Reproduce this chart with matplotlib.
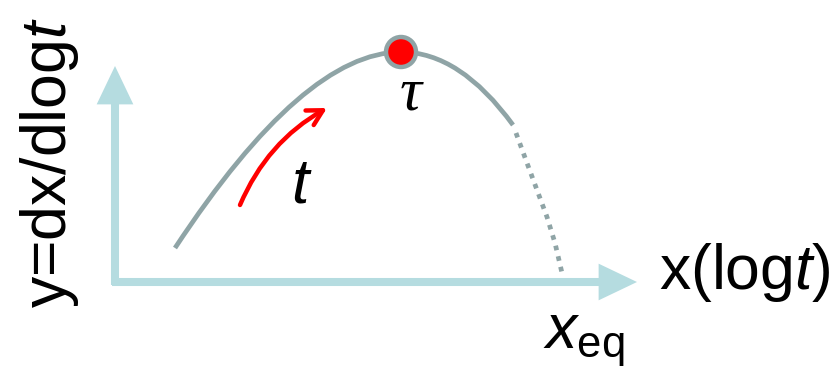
import matplotlib
matplotlib.use("Agg")
import matplotlib.pyplot as plt
from matplotlib.patches import FancyArrowPatch, Circle, PathPatch
from matplotlib.path import Path

plt.rcParams['font.family'] = ['Liberation Sans', 'DejaVu Sans']
plt.rcParams['mathtext.fontset'] = 'custom'
plt.rcParams['mathtext.rm'] = 'Liberation Sans'
plt.rcParams['mathtext.it'] = 'Liberation Sans:italic'

# curve y = dx/dlogt against log t, in drawing units (y grows downwards)
# nodes of two quadratic Bezier pieces: start, ctrl, peak, ctrl, end
curve_x = [175, 304, 401, 460, 513]
curve_y = [248, 52, 52, 52, 125]
tail_x = [516, 527, 537, 547, 555, 562]
tail_y = [133, 163, 190, 217, 243, 273]
peak = (401, 52)
time_arrow = [(240, 205), (327, 108)]

axis_col = '#b5dce0'
curve_col = '#8fa4a6'

fig = plt.figure(figsize=(8.36, 3.68), dpi=100)
ax = fig.add_axes([0, 0, 1, 1])
ax.set_xlim(0, 836)
ax.set_ylim(368, 0)
ax.axis('off')

# axes arrows
for start, tip in [((115, 285), (115, 66)), ((112, 282), (637, 282))]:
    ax.add_patch(FancyArrowPatch(start, tip, arrowstyle='-|>,head_length=18,head_width=8.6',
                                 mutation_scale=1, lw=5.8, color=axis_col,
                                 shrinkA=0, shrinkB=0, capstyle='butt', joinstyle='miter'))

codes = [Path.MOVETO] + [Path.CURVE3] * 4
ax.add_patch(PathPatch(Path(list(zip(curve_x, curve_y)), codes), facecolor='none',
                       edgecolor=curve_col, lw=3.4, capstyle='butt'))
ax.plot(tail_x, tail_y, color=curve_col, lw=3.4, linestyle=(0, (1.0, 1.3)),
        dash_capstyle='butt')

ax.add_patch(Circle(peak, 15, facecolor='#ff0000', edgecolor=curve_col, lw=3.2, zorder=5))

ax.add_patch(FancyArrowPatch(time_arrow[0], time_arrow[1], connectionstyle='arc3,rad=-0.17',
                             arrowstyle='->,head_length=11,head_width=6', mutation_scale=1,
                             lw=3.2, color='#ff0000', shrinkA=0, shrinkB=0))

ax.text(411, 95, '\u03c4', family='Liberation Serif', style='italic', fontsize=44,
        ha='center', va='center')
ax.text(302, 186, '$t$', fontsize=45, ha='center', va='center')
ax.text(50, 163, 'y=dx/dlog$t$', fontsize=45, rotation=90, ha='center', va='center')
ax.text(745, 272, 'x(log$t$)', fontsize=45, ha='center', va='center')
ax.text(543, 348, r'$x_{\rm eq}$', fontsize=45, ha='left', va='baseline')

fig.savefig('out.png', dpi=100)
